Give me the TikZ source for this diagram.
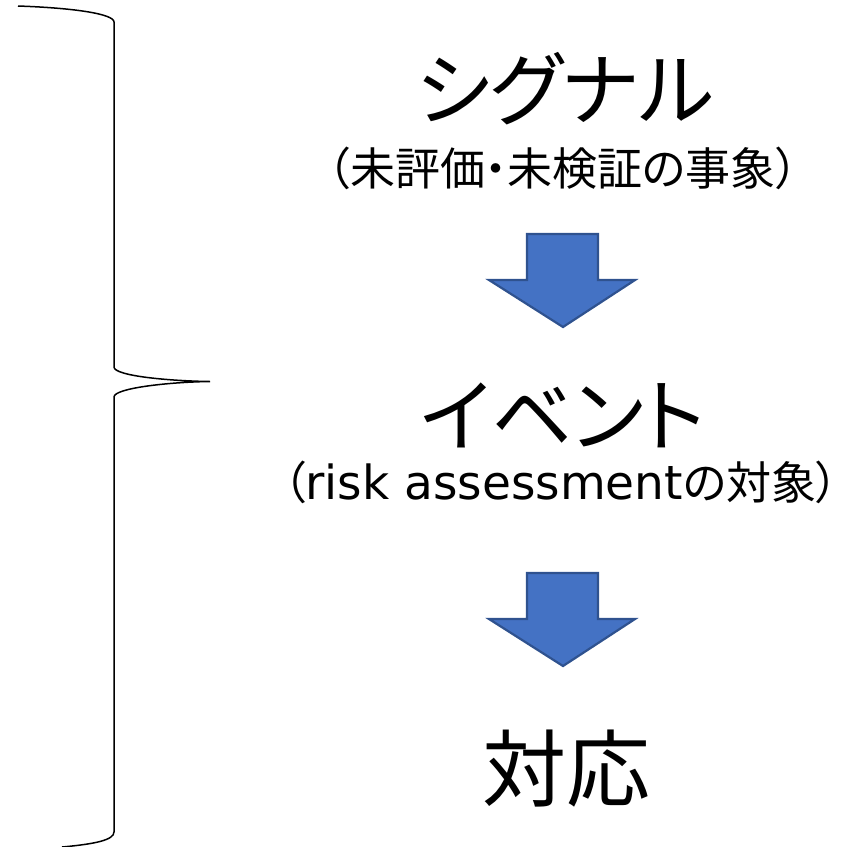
\documentclass[tikz,border=0pt]{standalone}
\usepackage{fontspec}
\newfontfamily\cjk[RawFeature=+palt]{Noto Sans CJK JP}
\newfontfamily\lat{DejaVu Sans}
\definecolor{arrowfill}{HTML}{4472C4}
\definecolor{arrowline}{HTML}{2F528F}
\tikzset{
  bigtxt/.style={inner sep=0pt, anchor=center, font=\cjk\fontsize{80}{90}\selectfont},
  subtxt/.style={inner sep=0pt, anchor=center, font=\cjk\fontsize{45}{50}\selectfont},
  blockarrow/.style={fill=arrowfill, draw=arrowline, line width=2.2pt, line join=miter},
  bracestyle/.style={draw=black, line width=1.5pt}
}
\begin{document}
\begin{tikzpicture}[x=1pt,y=-1pt]
\useasboundingbox (0,0) rectangle (866,846);
% brace
\draw[bracestyle] (18,6) .. controls (75,8) and (114,14) .. (114,22)
  -- (114,367) .. controls (114,376) and (170,381) .. (210,381.5)
  .. controls (170,382) and (114,388) .. (114,397)
  -- (114,832) .. controls (114,840) and (95,844) .. (62,847);
% texts
\node[bigtxt] (sig) at (565,89) {シグナル};
\node[subtxt] (sub1) at (563,168) {（未評価・未検証の事象）};
\node[bigtxt] (evt) at (563,415) {イベント};
\node[subtxt] (sub2) at (561,482) {（{\lat\fontsize{47}{50}\selectfont risk assessment}の対象）};
\node[bigtxt, font=\cjk\fontsize{84}{94}\selectfont] (res) at (566,769) {対応};
% arrows
\draw[blockarrow] (527,234) -- (598,234) -- (598,280) -- (635,280) -- (563,327) -- (489,280) -- (527,280) -- cycle;
\draw[blockarrow] (527,573) -- (598,573) -- (598,619) -- (635,619) -- (563,666) -- (489,619) -- (527,619) -- cycle;
\end{tikzpicture}
\end{document}
